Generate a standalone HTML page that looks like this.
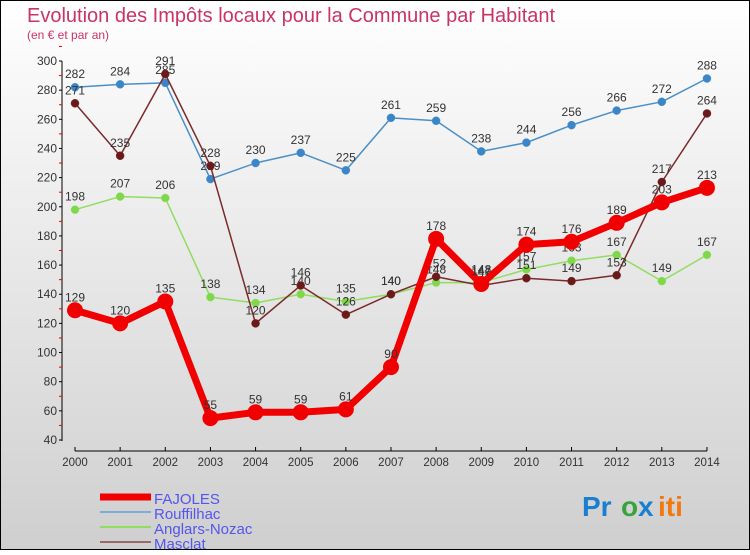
<!DOCTYPE html>
<html><head><meta charset="utf-8"><style>
body{margin:0;width:750px;height:550px;overflow:hidden;font-family:"Liberation Sans",sans-serif}
</style></head><body>
<svg width="750" height="550" xmlns="http://www.w3.org/2000/svg">
<defs><linearGradient id="bg" x1="0" y1="0" x2="0" y2="1"><stop offset="0" stop-color="#ffffff"/><stop offset="1" stop-color="#cfcfcf"/></linearGradient></defs>
<rect x="0.5" y="0.5" width="749" height="549" fill="url(#bg)" stroke="#000"/>
<text x="27" y="22" font-size="20" fill="#c8336a">Evolution des Impôts locaux pour la Commune par Habitant</text>
<text x="27" y="39" font-size="12" fill="#c8336a">(en € et par an)</text>
<g id="axes"></g><g id="series"></g><g id="legend"></g>
<g font-size="28" font-weight="bold" font-family="'Liberation Sans',sans-serif">
<text x="582" y="516" fill="#1a7fd0">Pr</text><text x="621" y="516" fill="#3aa23a">o</text><text x="638" y="516" fill="#1a7fd0">x</text><text x="658" y="516" fill="#f07a10">iti</text></g>
</svg>
<script>
const years=[2000,2001,2002,2003,2004,2005,2006,2007,2008,2009,2010,2011,2012,2013,2014];
const yTicks=[40,60,80,100,120,140,160,180,200,220,240,260,280,300];
const fajoles=[129,120,135,55,59,59,61,90,178,147,174,176,189,203,213];
const rouffilhac=[282,284,285,219,230,237,225,261,259,238,244,256,266,272,288];
const anglars=[198,207,206,138,134,140,135,140,148,148,157,163,167,149,167];
const masclat=[271,235,291,228,120,146,126,140,152,146,151,149,153,217,264];
const NS="http://www.w3.org/2000/svg";
const X=i=>75+i*45.14, Y=v=>440-(v-40)*(379/260);
function mk(t,a,p){const e=document.createElementNS(NS,t);for(const k in a)e.setAttribute(k,a[k]);(p||document.getElementById('series')).appendChild(e);return e;}
const ax=document.getElementById('axes');
let e=mk('line',{x1:62,y1:61,x2:62,y2:441,stroke:'#000'},ax);


e=mk('line',{x1:75,y1:451,x2:707,y2:451,stroke:'#000'},ax);


yTicks.forEach(v=>{mk('line',{x1:59,x2:62,y1:Y(v),y2:Y(v),stroke:'#000'},ax);
mk('line',{x1:59,x2:62,y1:Y(v+10),y2:Y(v+10),stroke:'#e00'},ax);
const t=mk('text',{x:57,y:Y(v)+4,'font-size':12,'text-anchor':'end',fill:'#333'},ax);t.textContent=v;

});
years.forEach((y,i)=>{mk('line',{x1:X(i),x2:X(i),y1:447,y2:451,stroke:'#000'},ax);
const t=mk('text',{x:X(i),y:466,'font-size':11.5,'text-anchor':'middle',fill:'#333'},ax);t.textContent=y;

});
function series(d,col,dot,w,r,name){
const g=mk('g',{});
mk('polyline',{points:d.map((v,i)=>X(i)+','+Y(v)).join(' '),fill:'none',stroke:col,'stroke-width':w,'stroke-linejoin':'round'},g);
d.forEach((v,i)=>{const c=mk('circle',{cx:X(i),cy:Y(v),r:r,fill:dot,stroke:col,'stroke-width':w>3?2:0.5},g);


const t=mk('text',{x:X(i),y:Y(v)-9,'font-size':12,'text-anchor':'middle',fill:'#333'},g);t.textContent=v;

});}
series(rouffilhac,'#4a90c8','#3a86c8',1.5,4,'rouffilhac');
series(anglars,'#90dd60','#7ed84a',1.5,4,'anglars-nozac');
series(masclat,'#7a2a2a','#6a1a1a',1.5,4,'masclat');
series(fajoles,'#f00000','#f00000',7,7,'fajoles');
const lg=document.getElementById('legend');
[['FAJOLES','#f00000',7],['Rouffilhac','#7aaed8',2],['Anglars-Nozac','#90dd60',2],['Masclat','#9a6a6a',2]].forEach((s,i)=>{
const y=494+i*15;const g=mk('g',{},lg);
mk('line',{x1:100,x2:151,y1:y+3,y2:y+3,stroke:s[1],'stroke-width':s[2]},g);
const t=mk('text',{x:154,y:y+10,'font-size':15,fill:'#5555ee'},g);t.textContent=s[0];});
</script>
</body></html>
